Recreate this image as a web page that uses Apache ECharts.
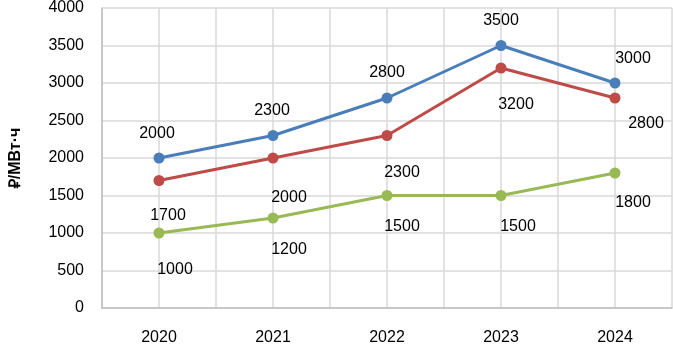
<!DOCTYPE html>
<html>
<head>
<meta charset="utf-8">
<script src="https://cdn.jsdelivr.net/npm/echarts@6/dist/echarts.min.js"></script>
<style>
  html, body { margin: 0; padding: 0; background: #fff; }
  #chart { width: 673px; height: 346px; }
</style>
</head>
<body>
<div id="chart"></div>
<script>
// data
const years = ['2020', '2021', '2022', '2023', '2024'];
const blueValues = [2000, 2300, 2800, 3500, 3000];
const redValues = [1700, 2000, 2300, 3200, 2800];
const greenValues = [1000, 1200, 1500, 1500, 1800];

// label nudges in px (where the original put each data label)
const blueNudge = [[-2, -24], [-1, -25], [0, -25], [0, -25], [18, -24]];
const redNudge = [[9, 35], [16, 40], [15, 37], [15, 37], [31, 26]];
const greenNudge = [[16, 37], [16, 32], [15, 31], [17, 31], [18, 30]];

const font = 'Liberation Sans, Arial, sans-serif';

const chart = echarts.init(document.getElementById('chart'));

const makeSeries = (name, values, nudge, color) => ({
  name: name,
  type: 'line',
  xAxisIndex: 0,
  data: values.map((v, i) => ({
    value: v,
    label: { offset: nudge[i] }
  })),
  symbol: 'circle',
  symbolSize: 11,
  itemStyle: { color: color },
  lineStyle: { color: color, width: 3 },
  label: {
    show: true,
    position: 'inside',
    color: '#000',
    fontFamily: font,
    fontSize: 16
  },
  emphasis: { disabled: true },
  animation: false
});

let option = {
  grid: { left: 90, right: 1, top: 6, bottom: 37 },
  xAxis: [{
    type: 'category',
    data: years,
    boundaryGap: true,
    axisLine: { lineStyle: { color: '#bfbfbf', width: 1.5 } },
    axisTick: { show: false },
    axisLabel: { color: '#000', fontFamily: font, fontSize: 16, margin: 22 },
    splitLine: { show: false }
  }, {
    // only used to draw the vertical grid every half category
    type: 'value',
    position: 'top',
    min: 0,
    max: 10,
    interval: 1,
    axisLine: { show: false },
    axisTick: { show: false },
    axisLabel: { show: false },
    splitLine: { show: true, lineStyle: { color: '#d9d9d9', width: 1.5 } }
  }],
  yAxis: {
    type: 'value',
    min: 0,
    max: 4000,
    interval: 500,
    name: '₽/МВт·ч',
    nameLocation: 'middle',
    nameGap: 78,
    nameTextStyle: { color: '#000', fontFamily: font, fontSize: 16, fontWeight: 'bold' },
    axisLine: { show: true, lineStyle: { color: '#bfbfbf', width: 1.5 } },
    axisTick: { show: false },
    axisLabel: {
      color: '#000',
      fontFamily: font,
      fontSize: 16,
      margin: 18,
      formatter: (v) => String(v)
    },
    splitLine: { lineStyle: { color: '#d9d9d9', width: 1.5 } }
  },
  series: [
    makeSeries('blue', blueValues, blueNudge, '#4a7ebb'),
    makeSeries('red', redValues, redNudge, '#be4b48'),
    makeSeries('green', greenValues, greenNudge, '#98b954')
  ]
};

chart.setOption(option);
</script>
</body>
</html>
